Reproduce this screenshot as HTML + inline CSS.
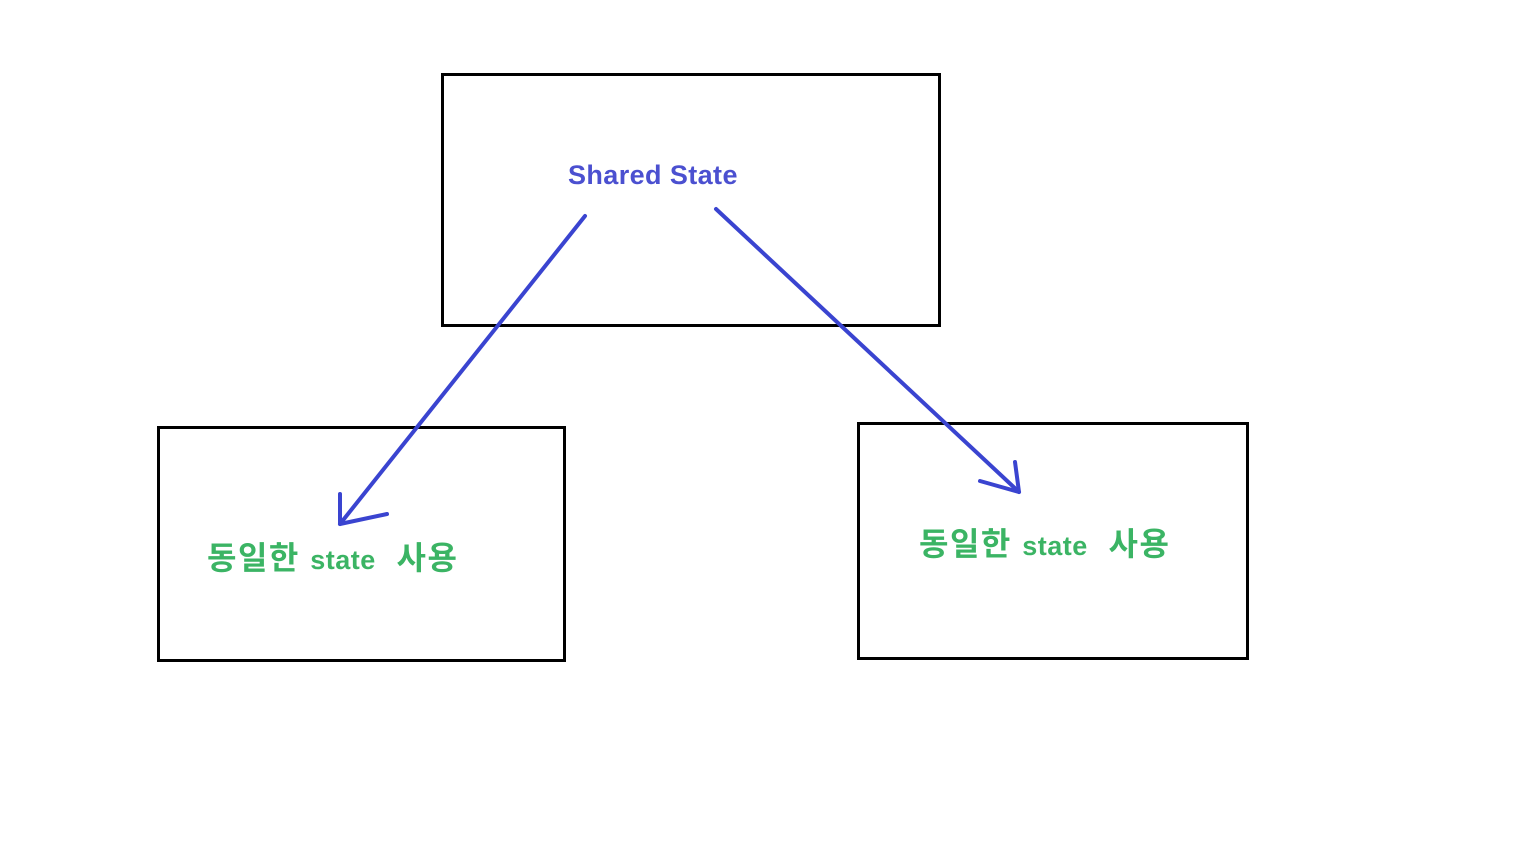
<!DOCTYPE html>
<html><head><style>
body{margin:0;width:1536px;height:864px;background:#fff;overflow:hidden;position:relative}
.b{position:absolute;border:3px solid #000;box-sizing:border-box}
.t{position:absolute;font-family:"Liberation Sans","Noto Sans CJK KR",sans-serif;font-weight:bold;white-space:nowrap}
</style></head><body>
<div class="b" style="left:441px;top:73px;width:500px;height:254px"></div>
<div class="b" style="left:157px;top:426px;width:409px;height:236px"></div>
<div class="b" style="left:857px;top:422px;width:392px;height:238px"></div>
<div class="t" style="left:568px;top:160px;font-size:27px;letter-spacing:0.4px;color:#4b50d0">Shared State</div>
<div class="t" style="left:207px;top:533px;font-size:32px;letter-spacing:1.5px;color:#3bb464">동일한 <span style="font-size:27px;letter-spacing:0.5px">state</span>&nbsp; 사용</div>
<div class="t" style="left:919px;top:519px;font-size:32px;letter-spacing:1.5px;color:#3bb464">동일한 <span style="font-size:27px;letter-spacing:0.5px">state</span>&nbsp; 사용</div>
<svg width="1536" height="864" style="position:absolute;left:0;top:0">
<g stroke="#3a44d0" stroke-width="4" fill="none" stroke-linecap="round" stroke-linejoin="round">
<path d="M585 216 L340 524"/>
<path d="M340 494 L340 524 L387 514"/>
<path d="M716 209 L1019 492"/>
<path d="M1015 462 L1019 492 L980 481"/>
</g>
</svg>
</body></html>
